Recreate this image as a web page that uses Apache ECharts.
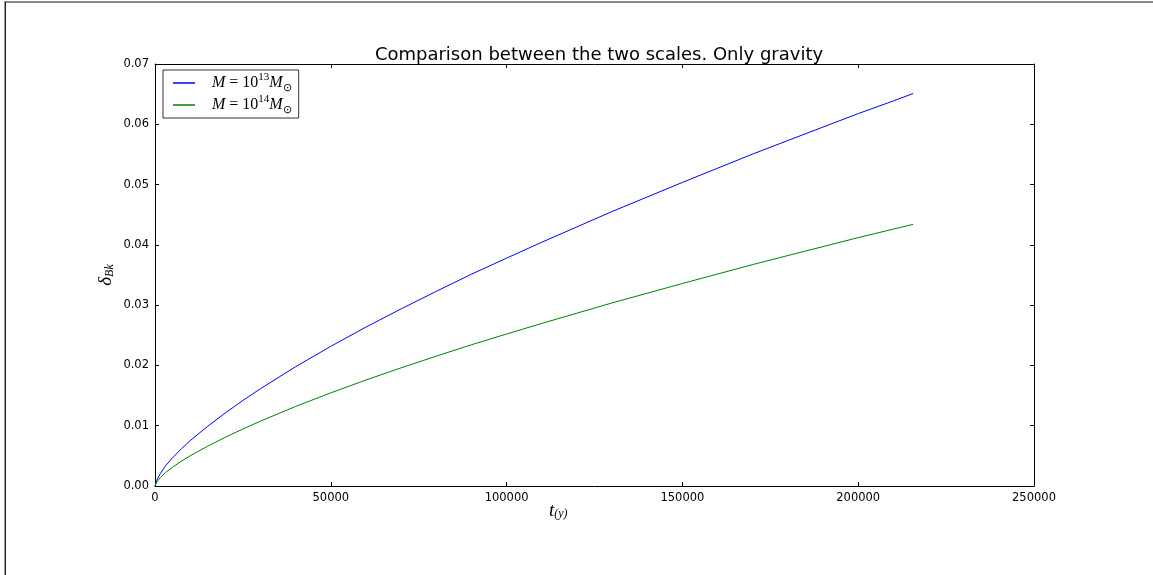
<!DOCTYPE html>
<html>
<head>
<meta charset="utf-8">
<script src="https://cdn.jsdelivr.net/npm/echarts@6/dist/echarts.min.js"></script>
<style>
html,body{margin:0;padding:0;background:#fff;}
#c{width:1153px;height:575px;}
</style>
</head>
<body>
<div id="c"></div>
<script>
var times = [0, 500, 1500, 3000, 5000, 7500, 10000, 15000, 20000, 25000, 30000, 40000, 50000, 60000, 70000, 80000, 90000, 100000, 110000, 120000, 130000, 140000, 150000, 160000, 170000, 180000, 190000, 200000, 210000, 215600];
var deltaM13 = [0, 0.00095, 0.00205, 0.00335, 0.00468, 0.00618, 0.00752, 0.00991, 0.01212, 0.01419, 0.01614, 0.01979, 0.02317, 0.02636, 0.02938, 0.03229, 0.03513, 0.03780, 0.04043, 0.04298, 0.04553, 0.04794, 0.05036, 0.05271, 0.05507, 0.05731, 0.05954, 0.06177, 0.06388, 0.06510];
var deltaM14 = [0, 0.00066, 0.00138, 0.00224, 0.00312, 0.00412, 0.00501, 0.00661, 0.00808, 0.00946, 0.01076, 0.01320, 0.01545, 0.01758, 0.01960, 0.02154, 0.02343, 0.02521, 0.02697, 0.02867, 0.03037, 0.03198, 0.03359, 0.03516, 0.03673, 0.03823, 0.03971, 0.04120, 0.04261, 0.04340];
var seriesNames = ['M13', 'M14'];
var xTicks = {min: 0, max: 250000, interval: 50000};
var yTicks = {min: 0, max: 0.07, interval: 0.01};

function pairs(xs, ys) { return xs.map(function (x, i) { return [x, ys[i]]; }); }

var chart = echarts.init(document.getElementById('c'), null, {renderer: 'canvas'});
var sans = 'DejaVu Sans';
var serif = 'Liberation Serif';
var legendRich = {
  sp: {width: 12},
  it: {fontFamily: serif, fontStyle: 'italic', fontSize: 16, color: '#000'},
  rm: {fontFamily: serif, fontSize: 16, color: '#000'},
  sup: {fontFamily: serif, fontSize: 11, color: '#000', verticalAlign: 'top', padding: [0, 0, 10, 0]},
  sub: {fontFamily: serif, fontSize: 11, color: '#000', verticalAlign: 'bottom', padding: [7, 0, 0, 0]}
};
function labelFor(name) {
  var exp = name === 'M13' ? '13' : '14';
  return '{sp|}{it|M}{rm| = 10}{sup|' + exp + '}{it|M}{sub|⊙}';
}
var axisCommon = {
  axisLine: {show: true, onZero: false, lineStyle: {color: '#000', width: 1}},
  axisTick: {show: true, inside: true, length: 4, lineStyle: {color: '#000'}},
  splitLine: {show: false}
};
var option = {
  animation: false,
  backgroundColor: '#fff',
  title: {
    text: 'Comparison between the two scales. Only gravity',
    left: 594, top: 41, textAlign: 'center',
    textStyle: {fontFamily: sans, fontSize: 18, fontWeight: 'normal', color: '#000'}
  },
  legend: {
    orient: 'vertical', left: 163, top: 70,
    padding: [2, 7, 2, 10],
    itemGap: 0, itemWidth: 22, itemHeight: 1.5,
    icon: 'rect',
    borderColor: '#333', borderWidth: 1, borderRadius: 0,
    backgroundColor: '#fff',
    data: seriesNames,
    formatter: labelFor,
    textStyle: {rich: legendRich, lineHeight: 22}
  },
  grid: {left: 155, right: 119, top: 64, bottom: 89, containLabel: false},
  xAxis: [
    Object.assign({type: 'value', position: 'bottom', min: xTicks.min, max: xTicks.max, interval: xTicks.interval,
      axisLabel: {color: '#000', fontFamily: sans, fontSize: 11.5, margin: 6,
        formatter: function (v) { return String(v); }}}, axisCommon),
    Object.assign({type: 'value', position: 'top', min: xTicks.min, max: xTicks.max, interval: xTicks.interval,
      axisLabel: {show: false}}, axisCommon)
  ],
  yAxis: [
    Object.assign({type: 'value', position: 'left', min: yTicks.min, max: yTicks.max, interval: yTicks.interval,
      axisLabel: {color: '#000', fontFamily: sans, fontSize: 11.5, margin: 6,
        formatter: function (v) { return v.toFixed(2); }}}, axisCommon),
    Object.assign({type: 'value', position: 'right', min: yTicks.min, max: yTicks.max, interval: yTicks.interval,
      axisLabel: {show: false}}, axisCommon)
  ],
  series: [
    {name: seriesNames[0], type: 'line', xAxisIndex: 0, yAxisIndex: 0, data: pairs(times, deltaM13),
      smooth: false, showSymbol: false, symbol: 'none', color: '#0000ff', lineStyle: {color: '#0000ff', width: 1}},
    {name: seriesNames[1], type: 'line', xAxisIndex: 0, yAxisIndex: 0, data: pairs(times, deltaM14),
      smooth: false, showSymbol: false, symbol: 'none', color: '#008000', lineStyle: {color: '#008000', width: 1}}
  ],
  graphic: [
    {type: 'rect', shape: {x: 4, y: 1, width: 1149, height: 2}, style: {fill: '#888'}, silent: true},
    {type: 'rect', shape: {x: 4, y: 1, width: 1, height: 574}, style: {fill: '#999'}, silent: true},
    {type: 'rect', shape: {x: 5, y: 2, width: 1, height: 573}, style: {fill: '#222'}, silent: true},
    {type: 'text', left: 549, top: 501,
      style: {text: '{t|t}{s|(y)}', rich: {
        t: {fontFamily: serif, fontStyle: 'italic', fontSize: 19, color: '#000'},
        s: {fontFamily: serif, fontStyle: 'italic', fontSize: 12, color: '#000', verticalAlign: 'bottom', padding: [7, 0, 0, 0]}
      }}},
    {type: 'text', x: 106, y: 275, rotation: Math.PI / 2,
      style: {text: '{d|δ}{s|Bk}', align: 'center', verticalAlign: 'middle', rich: {
        d: {fontFamily: serif, fontStyle: 'italic', fontSize: 19, color: '#000'},
        s: {fontFamily: serif, fontStyle: 'italic', fontSize: 12, color: '#000', verticalAlign: 'bottom', padding: [7, 0, 0, 0]}
      }}}
  ]
};
chart.setOption(option);
</script>
</body>
</html>
